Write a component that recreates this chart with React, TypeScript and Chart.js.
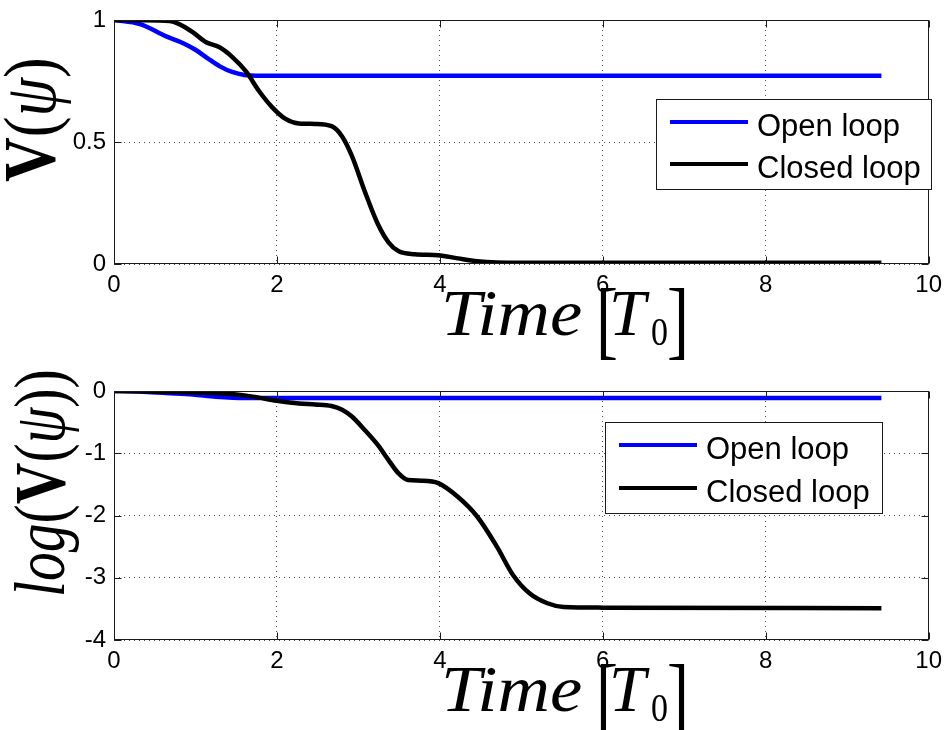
import React, { useEffect, useRef } from 'react';
import { Chart, registerables } from 'chart.js';

Chart.register(...registerables);

// ---------------- data ----------------
const seriesLabels = ['Open loop', 'Closed loop'];
const seriesColors = ['#0000ff', '#000000'];

const xTickStep = 2;
const xMin = 0;
const xMax = 10;

// Top panel: V(psi)
const timeOpenTop = [0, 0.32, 0.64, 0.85, 1.0, 1.15, 1.3, 1.45, 1.6, 1.8, 9.42];
const openLoopV = [1.0, 0.983, 0.933, 0.905, 0.878, 0.843, 0.81, 0.787, 0.775, 0.772, 0.772];

const timeClosedTop = [0, 0.32, 0.68, 0.8, 0.97, 1.13, 1.29, 1.45, 1.62, 1.78, 1.94, 2.1, 2.27, 2.47, 2.67, 2.8, 2.92, 3.08, 3.24, 3.37, 3.49, 3.69, 3.98, 4.22, 4.46, 4.7, 5.0, 9.42];
const closedLoopV = [1.0, 0.999, 0.996, 0.983, 0.949, 0.909, 0.889, 0.849, 0.789, 0.709, 0.643, 0.596, 0.576, 0.574, 0.565, 0.523, 0.443, 0.296, 0.163, 0.089, 0.053, 0.04, 0.036, 0.023, 0.011, 0.006, 0.005, 0.005];

// Bottom panel: log(V(psi))
const timeOpenBottom = [0, 0.32, 0.64, 0.97, 1.25, 1.62, 9.42];
const openLoopLogV = [0, -0.007, -0.032, -0.057, -0.092, -0.112, -0.112];

const timeClosedBottom = [0, 0.6, 1.0, 1.45, 1.7, 2.0, 2.27, 2.47, 2.67, 2.8, 2.92, 3.08, 3.24, 3.37, 3.49, 3.61, 3.77, 3.98, 4.22, 4.46, 4.7, 4.9, 5.1, 5.32, 5.52, 6.0, 9.42];
const closedLoopLogV = [0, -0.012, -0.025, -0.05, -0.09, -0.155, -0.2, -0.215, -0.24, -0.3, -0.41, -0.63, -0.87, -1.11, -1.32, -1.43, -1.44, -1.48, -1.7, -2.02, -2.5, -2.96, -3.25, -3.41, -3.47, -3.48, -3.49];

const topY = { min: 0, max: 1, step: 0.5 };
const bottomY = { min: -4, max: 0, step: 1 };

// ---------------- styles ----------------
const SANS = '"Liberation Sans", Arial, Helvetica, sans-serif';
const SERIF = '"Liberation Serif", "Times New Roman", Times, serif';
const GRID = 'rgba(0,0,0,0.7)';
const FRAME = '#1a1a1a';

type Seg = { t: string; font: string; at?: number; dy?: number; sx?: number; sy?: number };

function drawSegs(ctx: CanvasRenderingContext2D, segs: Seg[]) {
  let x = 0;
  for (const s of segs) {
    ctx.font = s.font;
    if (s.at !== undefined) x = s.at;
    const kx = s.sx || 1;
    const ky = s.sy || 1;
    ctx.save();
    ctx.translate(x, s.dy || 0);
    ctx.scale(kx, ky);
    ctx.fillText(s.t, 0, 0);
    ctx.restore();
    x += ctx.measureText(s.t).width * kx;
  }
}

type DecorCfg = {
  legend: { x: number; y: number; w: number; h: number; rows: number[]; lx0: number; lx1: number; tx: number };
  yTitle: { x: number; y: number; sx: number; sy: number; segs: Seg[] };
};

function makeDecor(cfg: DecorCfg) {
  return {
    id: 'decor',
    afterDraw(chart: any) {
      const ctx: CanvasRenderingContext2D = chart.ctx;
      const a = chart.chartArea;
      const sx = chart.scales.x;
      const sy = chart.scales.y;
      ctx.save();
      // frame
      ctx.strokeStyle = FRAME;
      ctx.lineWidth = 1;
      const L = Math.round(a.left) + 0.5;
      const T = Math.round(a.top) + 0.5;
      const R = Math.round(a.right) - 0.5;
      const B = Math.round(a.bottom) - 0.5;
      ctx.strokeRect(L, T, R - L, B - T);
      // inner tick marks
      const tl = 7;
      ctx.beginPath();
      for (const tk of sx.ticks) {
        const p = Math.round(sx.getPixelForValue(tk.value)) + 0.5;
        ctx.moveTo(p, B); ctx.lineTo(p, B - tl);
        ctx.moveTo(p, T); ctx.lineTo(p, T + tl);
      }
      for (const tk of sy.ticks) {
        const p = Math.round(sy.getPixelForValue(tk.value)) + 0.5;
        ctx.moveTo(L, p); ctx.lineTo(L + tl, p);
        ctx.moveTo(R, p); ctx.lineTo(R - tl, p);
      }
      ctx.stroke();

      // legend
      const lg = cfg.legend;
      ctx.fillStyle = '#ffffff';
      ctx.fillRect(lg.x, lg.y, lg.w, lg.h);
      ctx.strokeStyle = FRAME;
      ctx.lineWidth = 1;
      ctx.strokeRect(lg.x + 0.5, lg.y + 0.5, lg.w, lg.h);
      chart.data.datasets.forEach((ds: any, i: number) => {
        const ry = lg.rows[i];
        ctx.strokeStyle = ds.borderColor;
        ctx.lineWidth = 4;
        ctx.beginPath();
        ctx.moveTo(lg.lx0, ry);
        ctx.lineTo(lg.lx1, ry);
        ctx.stroke();
        ctx.fillStyle = '#000';
        ctx.font = `31px ${SANS}`;
        ctx.textAlign = 'left';
        ctx.textBaseline = 'alphabetic';
        ctx.fillText(ds.label, lg.tx, ry + 14);
      });

      // x title: Time[T0]
      ctx.fillStyle = '#000';
      ctx.textAlign = 'left';
      ctx.textBaseline = 'alphabetic';
      ctx.save();
      ctx.translate(a.left + 327, a.bottom + 71);
      drawSegs(ctx, [
        { t: 'Time', font: `italic 66px ${SERIF}`, at: 0, sx: 1.1 },
        { t: '[', font: `66px ${SERIF}`, at: 155, dy: 13, sy: 1.33 },
        { t: 'T', font: `italic 66px ${SERIF}`, at: 168 },
        { t: '0', font: `34px ${SERIF}`, at: 210, dy: 10, sy: 1.15 },
        { t: ']', font: `66px ${SERIF}`, at: 226, dy: 13, sy: 1.33 },
      ]);
      ctx.restore();

      // y title
      const yt = cfg.yTitle;
      ctx.save();
      ctx.translate(yt.x, yt.y);
      ctx.rotate(-Math.PI / 2);
      ctx.scale(yt.sx, yt.sy);
      drawSegs(ctx, yt.segs);
      ctx.restore();

      ctx.restore();
    },
  };
}

function toPoints(t: number[], v: number[]) {
  return t.map((x, i) => ({ x, y: v[i] }));
}

const fmtTick = (v: any) => String(Math.round(Number(v) * 100) / 100);

function makeConfig(p: {
  open: { x: number; y: number }[];
  closed: { x: number; y: number }[];
  y: { min: number; max: number; step: number };
  padTop: number;
  xAxisHeight: number;
  decor: DecorCfg;
}) {
  const tickFont = { family: SANS, size: 24, lineHeight: 1 };
  const mk = (i: number, data: any[], order: number) => ({
    label: seriesLabels[i],
    data,
    borderColor: seriesColors[i],
    backgroundColor: seriesColors[i],
    borderWidth: 4.5,
    pointRadius: 0,
    cubicInterpolationMode: 'monotone',
    fill: false,
    order,
    clip: 0,
  });
  return {
    type: 'line',
    data: { datasets: [mk(0, p.open, 1), mk(1, p.closed, 0)] },
    options: {
      animation: false,
      responsive: false,
      devicePixelRatio: 1,
      layout: { padding: { left: 0, right: 17, top: p.padTop, bottom: 0 } },
      plugins: { legend: { display: false }, tooltip: { enabled: false }, title: { display: false } },
      elements: { point: { radius: 0 } },
      scales: {
        x: {
          type: 'linear',
          min: xMin,
          max: xMax,
          ticks: { stepSize: xTickStep, padding: 9, maxRotation: 0, autoSkip: false, color: '#000', font: tickFont, callback: fmtTick },
          grid: { color: GRID, lineWidth: 1, drawTicks: false },
          border: { display: false, dash: [1, 4] },
          afterFit: (s: any) => { s.height = p.xAxisHeight; },
        },
        y: {
          type: 'linear',
          min: p.y.min,
          max: p.y.max,
          ticks: { stepSize: p.y.step, padding: 8, autoSkip: false, color: '#000', font: tickFont, callback: fmtTick },
          grid: { color: GRID, lineWidth: 1, drawTicks: false },
          border: { display: false, dash: [1, 4] },
          afterFit: (s: any) => { s.width = 114; },
        },
      },
    },
    plugins: [makeDecor(p.decor)],
  };
}

export default function App() {
  const topRef = useRef<HTMLCanvasElement>(null);
  const botRef = useRef<HTMLCanvasElement>(null);

  useEffect(() => {
    document.body.style.margin = '0';
    const c1 = new Chart(topRef.current as HTMLCanvasElement, makeConfig({
      open: toPoints(timeOpenTop, openLoopV),
      closed: toPoints(timeClosedTop, closedLoopV),
      y: topY,
      padTop: 13,
      xAxisHeight: 101,
      decor: {
        legend: { x: 656, y: 99, w: 275, h: 90, rows: [122, 164], lx0: 670, lx1: 748, tx: 757 },
        yTitle: {
          x: 55, y: 182, sx: 1.0, sy: 1.18,
          segs: [
            { t: 'V', font: `bold 62px ${SERIF}` },
            { t: '(', font: `62px ${SERIF}` },
            { t: 'ψ', font: `italic 62px ${SERIF}` },
            { t: ')', font: `62px ${SERIF}` },
          ],
        },
      },
    }) as any);
    const c2 = new Chart(botRef.current as HTMLCanvasElement, makeConfig({
      open: toPoints(timeOpenBottom, openLoopLogV),
      closed: toPoints(timeClosedBottom, closedLoopLogV),
      y: bottomY,
      padTop: 26,
      xAxisHeight: 90,
      decor: {
        legend: { x: 605, y: 57, w: 277, h: 91, rows: [80, 123], lx0: 619, lx1: 697, tx: 706 },
        yTitle: {
          x: 64, y: 232, sx: 0.96, sy: 1.2,
          segs: [
            { t: 'log', font: `italic 60px ${SERIF}` },
            { t: '(', font: `60px ${SERIF}` },
            { t: 'V', font: `bold 60px ${SERIF}` },
            { t: '(', font: `60px ${SERIF}` },
            { t: 'ψ', font: `italic 60px ${SERIF}` },
            { t: '))', font: `60px ${SERIF}` },
          ],
        },
      },
    }) as any);
    return () => { c1.destroy(); c2.destroy(); };
  }, []);

  return (
    <div style={{ position: 'relative', width: 951, height: 730, background: '#ffffff' }}>
      <canvas ref={topRef} width={951} height={365} style={{ position: 'absolute', left: 0, top: 0, width: 951, height: 365 }} />
      <canvas ref={botRef} width={951} height={365} style={{ position: 'absolute', left: 0, top: 365, width: 951, height: 365 }} />
    </div>
  );
}
